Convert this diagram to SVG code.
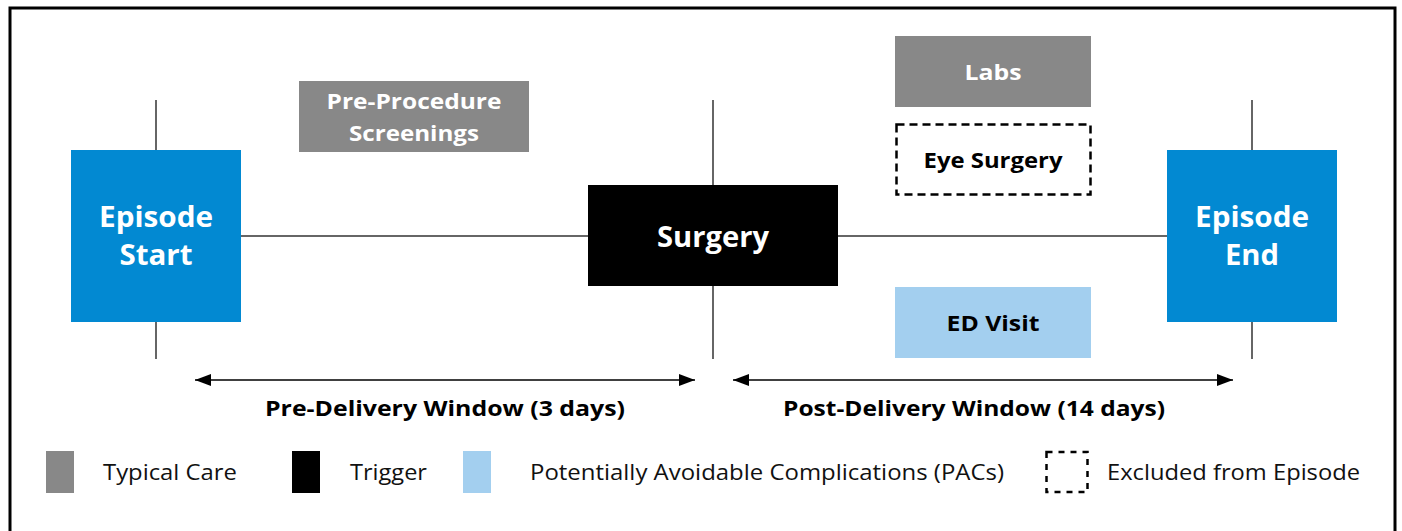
<svg xmlns="http://www.w3.org/2000/svg" width="1402" height="531" viewBox="0 0 1402 531">
<defs>
<style>
text{font-family:"Open Sans","Liberation Sans",sans-serif}
.b{font-weight:bold;text-anchor:middle}
.big{font-size:28px;fill:#fff}
.mid{font-size:22px}
.w{fill:#fff}
.k{fill:#000}
.leg{font-size:21px;fill:#111}
.ln{stroke:#333;stroke-width:1.5;fill:none}
</style>
<marker id="ah" viewBox="0 0 16 12" refX="16" refY="6" markerWidth="16" markerHeight="12" markerUnits="userSpaceOnUse" orient="auto-start-reverse">
<path d="M0,0 L16,6 L0,12 Z" fill="#000"/>
</marker>
</defs>
<rect x="0" y="0" width="1402" height="531" fill="#fff"/>
<rect x="10" y="8" width="1385" height="540" fill="none" stroke="#000" stroke-width="3"/>
<g id="connectors">
<line class="ln" x1="156" y1="100" x2="156" y2="359"/>
<line class="ln" x1="713" y1="100" x2="713" y2="359"/>
<line class="ln" x1="1252" y1="100" x2="1252" y2="359"/>
<line class="ln" x1="241" y1="236" x2="1167" y2="236"/>
<line x1="195" y1="380" x2="695" y2="380" stroke="#000" stroke-width="1.5" marker-start="url(#ah)" marker-end="url(#ah)"/>
<line x1="733" y1="380" x2="1233" y2="380" stroke="#000" stroke-width="1.5" marker-start="url(#ah)" marker-end="url(#ah)"/>
</g>
<g id="episode-start">
<rect x="71" y="150" width="170" height="172" fill="#0289d2"/>
<text class="b big" x="156" y="227" textLength="114" lengthAdjust="spacingAndGlyphs">Episode</text>
<text class="b big" x="156" y="265" textLength="73" lengthAdjust="spacingAndGlyphs">Start</text>
</g>
<g id="pre-procedure">
<rect x="299" y="81" width="230" height="71" fill="#888"/>
<text class="b mid w" x="414" y="109" textLength="175" lengthAdjust="spacingAndGlyphs">Pre-Procedure</text>
<text class="b mid w" x="414" y="141" textLength="130" lengthAdjust="spacingAndGlyphs">Screenings</text>
</g>
<g id="surgery">
<rect x="588" y="185" width="250" height="101" fill="#000"/>
<text class="b big" x="713" y="247" textLength="112" lengthAdjust="spacingAndGlyphs">Surgery</text>
</g>
<g id="labs">
<rect x="895" y="36" width="196" height="71" fill="#888"/>
<text class="b mid w" x="993" y="80" textLength="57" lengthAdjust="spacingAndGlyphs">Labs</text>
</g>
<g id="eye-surgery">
<rect x="896.5" y="124.5" width="194" height="70" fill="none" stroke="#000" stroke-width="2.5" stroke-dasharray="8,5"/>
<text class="b mid k" x="993" y="168" textLength="139" lengthAdjust="spacingAndGlyphs">Eye Surgery</text>
</g>
<g id="ed-visit">
<rect x="895" y="287" width="196" height="71" fill="#a3cfef"/>
<text class="b mid k" x="993" y="331" textLength="93" lengthAdjust="spacingAndGlyphs">ED Visit</text>
</g>
<g id="episode-end">
<rect x="1167" y="150" width="170" height="172" fill="#0289d2"/>
<text class="b big" x="1252" y="227" textLength="114" lengthAdjust="spacingAndGlyphs">Episode</text>
<text class="b big" x="1252" y="265" textLength="54" lengthAdjust="spacingAndGlyphs">End</text>
</g>
<g id="pre-window-label">
<text class="b mid k" x="445" y="416" textLength="360" lengthAdjust="spacingAndGlyphs">Pre-Delivery Window (3 days)</text>
</g>
<g id="post-window-label">
<text class="b mid k" x="974" y="416" textLength="382" lengthAdjust="spacingAndGlyphs">Post-Delivery Window (14 days)</text>
</g>
<g id="legend">
<rect x="46" y="451" width="28" height="42" fill="#888"/>
<text class="leg" x="103" y="480" textLength="134" lengthAdjust="spacingAndGlyphs">Typical Care</text>
<rect x="292" y="451" width="28" height="42" fill="#000"/>
<text class="leg" x="350" y="480" textLength="77" lengthAdjust="spacingAndGlyphs">Trigger</text>
<rect x="463" y="451" width="28" height="42" fill="#a3cfef"/>
<text class="leg" x="530" y="480" textLength="474" lengthAdjust="spacingAndGlyphs">Potentially Avoidable Complications (PACs)</text>
<rect x="1046.5" y="452" width="41" height="40" fill="none" stroke="#000" stroke-width="2.5" stroke-dasharray="6,6"/>
<text class="leg" x="1107" y="480" textLength="253" lengthAdjust="spacingAndGlyphs">Excluded from Episode</text>
</g>
</svg>
